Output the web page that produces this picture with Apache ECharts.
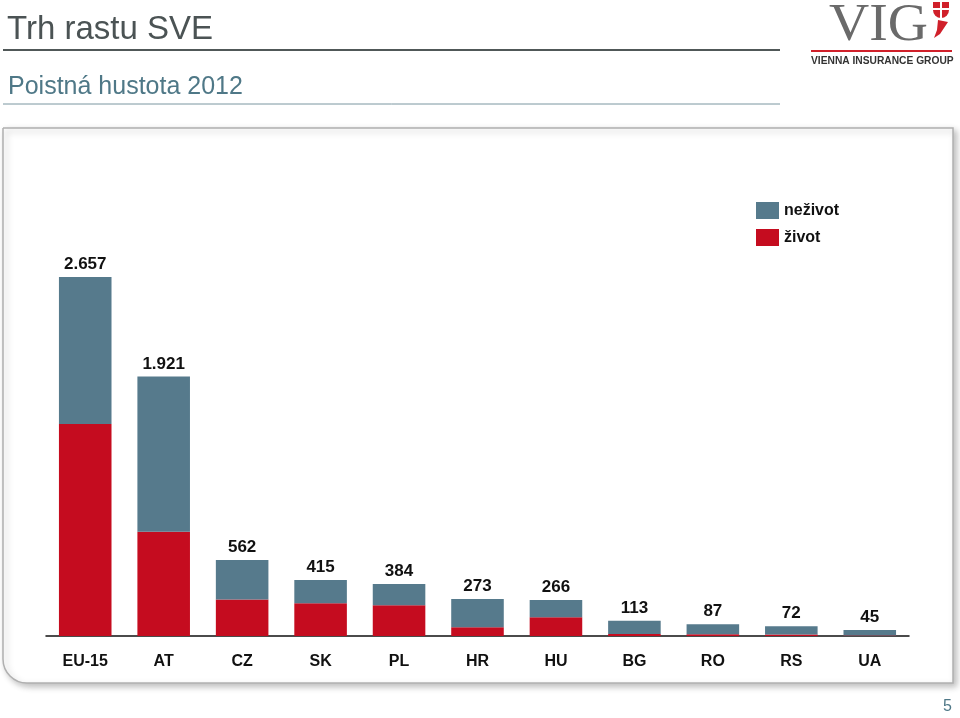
<!DOCTYPE html>
<html>
<head>
<meta charset="utf-8">
<script src="https://cdn.jsdelivr.net/npm/echarts@6/dist/echarts.min.js"></script>
<style>
html,body{margin:0;padding:0;background:#fff;}
#c{width:960px;height:718px;}
</style>
</head>
<body>
<div id="c"></div>
<script>
const categories = ['EU-15','AT','CZ','SK','PL','HR','HU','BG','RO','RS','UA'];
const totals = [2657, 1921, 562, 415, 384, 273, 266, 113, 87, 72, 45];
const zivot = [1569, 772, 271, 242, 227, 64, 138, 15, 13, 12, 3];
const nezivot = totals.map((t, i) => t - zivot[i]);
const seriesNames = ['neživot', 'život'];

function fmt(v){ return String(v).replace(/\B(?=(\d{3})+(?!\d))/g, '.'); }

const chart = echarts.init(document.getElementById('c'), null, {renderer:'canvas'});
const FONT = '"Liberation Sans", Arial, sans-serif';
chart.setOption({
  animation:false,
  backgroundColor:'#fff',
  graphic:[
    {type:'rect', z:-10, shape:{x:3,y:128,width:950,height:555,r:[0,0,0,24]},
     style:{fill:'#fff', stroke:'#b0b0b0', lineWidth:1.5, shadowBlur:6, shadowOffsetX:3, shadowOffsetY:3, shadowColor:'rgba(0,0,0,0.25)'}},
    {type:'text', left:7, top:13, style:{text:'Trh rastu SVE', font:'33px '+FONT, fill:'#4b5354'}},
    {type:'line', shape:{x1:3,y1:50,x2:780,y2:50}, style:{stroke:'#505858', lineWidth:2}},
    {type:'text', left:8, top:75, style:{text:'Poistná hustota 2012', font:'25px '+FONT, fill:'#4f7887'}},
    {type:'line', shape:{x1:3,y1:104,x2:780,y2:104}, style:{stroke:'#7a96a0', lineWidth:1}},
    {type:'text', x:829, y:0, scaleX:1.07, style:{text:'VIG', font:'52px "Liberation Serif", "DejaVu Serif", serif', fill:'#6a6a6a'}},
    {type:'rect', shape:{x:933,y:2,width:16,height:16,r:[0,0,8,8]}, style:{fill:'#d0202a'}},
    {type:'line', shape:{x1:941,y1:2,x2:941,y2:18}, style:{stroke:'#fff', lineWidth:2}},
    {type:'line', shape:{x1:933,y1:9,x2:949,y2:9}, style:{stroke:'#fff', lineWidth:2}},
    {type:'polygon', shape:{points:[[938,20],[948,22],[940,34],[934,38],[937,30]]}, style:{fill:'#d0202a'}},
    {type:'line', shape:{x1:811,y1:51,x2:952,y2:51}, style:{stroke:'#d0202a', lineWidth:2}},
    {type:'text', x:811, y:55, scaleX:0.93, style:{text:'VIENNA INSURANCE GROUP', font:'bold 11px "Liberation Sans", Arial, sans-serif', fill:'#333'}},
    {type:'text', left:943, top:699, style:{text:'5', font:'16px '+FONT, fill:'#4f7887'}}
  ],
  legend:{
    data:seriesNames, orient:'vertical', left:751, top:197, itemWidth:23, itemHeight:17, itemGap:10,
    icon:'rect', textStyle:{fontFamily:FONT, fontWeight:'bold', fontSize:16, color:'#111'}
  },
  grid:{left:46, right:51, top:277, bottom:82, containLabel:false},
  xAxis:{
    type:'category', data:categories,
    axisLine:{lineStyle:{color:'#111', width:1.5}}, axisTick:{show:false},
    axisLabel:{fontFamily:FONT, fontWeight:'bold', fontSize:16, color:'#111', margin:18}
  },
  yAxis:{type:'value', min:0, max:2657, show:false, splitLine:{show:false}},
  series:[
    {name:'život', type:'bar', stack:'s', data:zivot, barCategoryGap:'33%', itemStyle:{color:'#c50c1f'}},
    {name:'neživot', type:'bar', stack:'s', data:nezivot, itemStyle:{color:'#567a8c'},
     label:{show:true, position:'top', distance:4, fontFamily:FONT, fontWeight:'bold', fontSize:17, color:'#111',
       formatter:p => fmt(totals[p.dataIndex])}}
  ]
});
</script>
</body>
</html>
